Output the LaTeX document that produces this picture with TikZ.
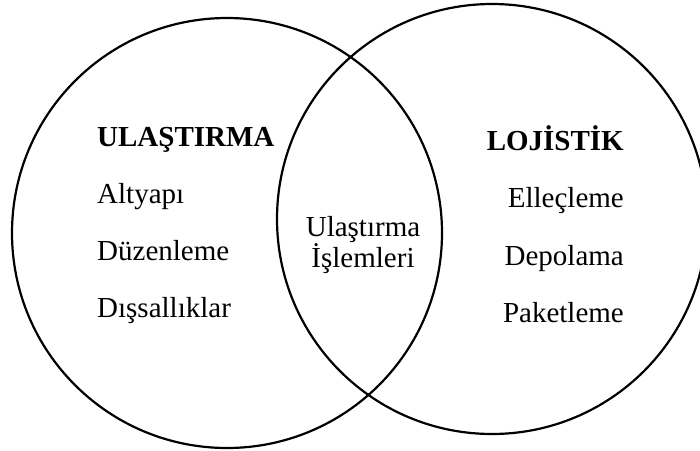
\documentclass[tikz,border=0pt]{standalone}
\usepackage{fontspec}
\setmainfont{Liberation Serif}
\begin{document}
\begin{tikzpicture}[x=1pt,y=-1pt,
  setcircle/.style={circle, draw, line width=2.2pt, minimum size=430pt, inner sep=0pt},
  itemtext/.style={inner sep=0pt, font=\fontsize{29}{34}\selectfont},
  headtext/.style={inner sep=0pt, font=\fontsize{29}{34}\selectfont\bfseries}]
  \useasboundingbox (0,0) rectangle (700,450);
  \clip (0,0) rectangle (700,450);

  % the two overlapping sets
  \node[setcircle] (ulas) at (227,233) {};
  \node[setcircle] (loj)  at (492,219) {};

  % left set: transport
  \node[headtext, anchor=base west] (ulashead) at (97,146) {ULAŞTIRMA};
  \node[itemtext, anchor=base west] (altyapi) at (97,203) {Altyapı};
  \node[itemtext, anchor=base west] (duzen)   at (97,260) {Düzenleme};
  \node[itemtext, anchor=base west] (dissal)  at (97,317) {Dışsallıklar};

  % right set: logistics
  \node[headtext, anchor=base east] (lojhead) at (624,150) {LOJİSTİK};
  \node[itemtext, anchor=base east] (ellec)   at (624,207) {Elleçleme};
  \node[itemtext, anchor=base east] (depo)    at (624,265) {Depolama};
  \node[itemtext, anchor=base east] (paket)   at (624,322) {Paketleme};

  % intersection
  \node[itemtext, anchor=base] (ort1) at (363,236) {Ulaştırma};
  \node[itemtext, anchor=base] (ort2) at (363,267) {İşlemleri};
\end{tikzpicture}
\end{document}
